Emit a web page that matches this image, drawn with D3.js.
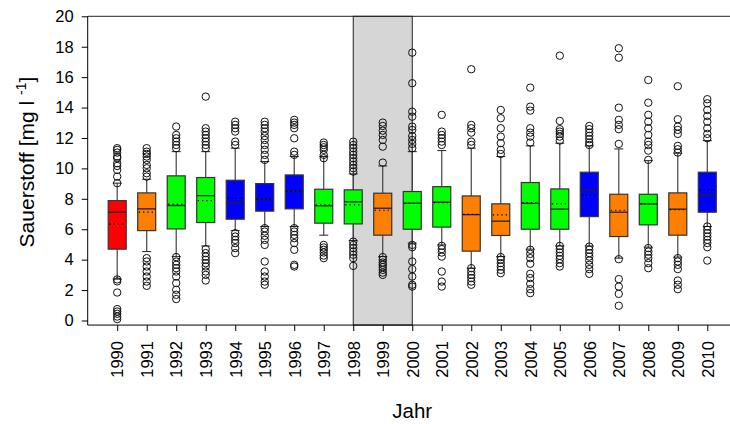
<!DOCTYPE html>
<html>
<head>
<meta charset="utf-8">
<script src="https://cdn.jsdelivr.net/npm/d3@7"></script>
<style>
  body { margin: 0; background: #fff; }
  svg { display: block; font-family: Arial, "Liberation Sans", sans-serif; }
</style>
</head>
<body>
<svg id="chart" width="730" height="424"></svg>
<script>
// Sauerstoff box plots per year
const years = d3.range(1990, 2011);
const groups = ["r", "o", "g", "g", "b", "b", "b", "g", "g", "o", "g", "g", "o", "o", "g", "g", "b", "o", "g", "o", "b"];
const q1 = [4.69, 5.91, 6.02, 6.44, 6.66, 7.19, 7.34, 6.4, 6.35, 5.61, 6.0, 6.14, 4.56, 5.59, 6.0, 6.0, 6.83, 5.52, 6.29, 5.61, 7.12];
const q3 = [7.88, 8.39, 9.51, 9.4, 9.22, 9.0, 9.57, 8.63, 8.59, 8.37, 8.48, 8.8, 8.19, 7.67, 9.07, 8.65, 9.75, 8.3, 8.3, 8.39, 9.75];
const medians = [7.12, 7.34, 7.56, 8.21, 7.71, 8.0, 8.48, 7.54, 7.8, 7.38, 7.71, 7.78, 6.96, 6.53, 7.7, 7.32, 8.57, 7.12, 7.67, 7.32, 8.26];
const means = [6.33, 7.12, 7.65, 7.88, 8.04, 8.0, 8.5, 7.6, 7.6, 7.25, 7.71, 7.75, 6.98, 6.94, 7.75, 7.67, 8.24, 7.25, 7.67, 7.28, 8.59];
const whiskLo = [2.72, 4.53, 4.2, 4.9, 5.91, 6.18, 6.18, 5.61, 5.26, 4.2, 5.09, 4.97, 3.44, 4.2, 4.69, 4.9, 4.9, 4.1, 4.82, 4.17, 6.18];
const whiskHi = [9.03, 9.29, 11.1, 11.1, 11.33, 10.45, 10.78, 10.78, 9.64, 10.16, 11.1, 11.17, 11.33, 10.78, 11.48, 11.66, 11.48, 11.28, 10.51, 11.0, 11.83];
const outliers = [
  [11.33, 11.22, 11.04, 10.78, 10.67, 10.34, 10.16, 9.9, 9.46, 9.03, 2.7, 2.57, 1.84, 0.75, 0.59, 0.44, 0.26, 0.09],
  [11.33, 11.1, 10.95, 10.78, 10.56, 10.23, 10.01, 9.68, 9.46, 4.1, 3.88, 3.55, 3.22, 2.89, 2.56, 2.28],
  [12.75, 12.2, 11.98, 11.76, 11.54, 11.33, 4.17, 3.88, 3.66, 3.44, 3.22, 2.89, 2.46, 2.02, 1.69, 1.41],
  [14.72, 12.64, 12.42, 12.2, 11.98, 11.76, 11.54, 11.33, 4.69, 4.43, 4.2, 3.99, 3.77, 3.55, 3.22, 3.0, 2.63],
  [13.07, 12.86, 12.64, 12.42, 11.76, 11.54, 5.74, 5.52, 5.3, 5.09, 4.76, 4.43],
  [13.07, 12.86, 12.64, 12.42, 12.13, 11.87, 11.54, 11.22, 10.89, 10.56, 6.07, 5.85, 5.57, 5.3, 4.97, 3.88, 3.22, 2.89, 2.56, 2.35],
  [13.19, 13.01, 12.86, 12.64, 11.98, 11.1, 10.89, 6.07, 5.85, 5.63, 5.41, 5.09, 4.65, 3.66, 3.55],
  [11.7, 11.54, 11.39, 11.22, 10.89, 10.67, 4.97, 4.8, 4.65, 4.47, 4.27, 4.1],
  [11.76, 11.54, 11.33, 11.1, 10.89, 10.67, 10.45, 10.23, 10.01, 9.79, 5.19, 4.97, 4.76, 4.53, 4.32, 4.1, 3.59],
  [13.01, 12.79, 12.48, 12.2, 11.87, 11.43, 10.38, 4.17, 3.99, 3.81, 3.66, 3.51, 3.33, 3.15, 3.0],
  [17.61, 15.6, 13.73, 13.4, 12.75, 12.53, 12.13, 11.87, 11.61, 11.33, 4.97, 4.82, 3.88, 3.38, 2.89, 2.35, 2.23],
  [13.52, 12.42, 12.2, 11.98, 11.76, 11.54, 4.91, 4.69, 4.47, 4.2, 3.22, 2.56, 2.23],
  [16.52, 12.86, 12.64, 12.35, 11.76, 11.54, 3.44, 3.22, 3.0, 2.79, 2.56, 2.35],
  [13.84, 13.3, 12.64, 12.09, 11.66, 11.22, 10.95, 4.17, 4.0, 3.77, 3.55, 3.33, 3.11],
  [15.31, 14.06, 13.8, 12.64, 12.35, 12.09, 11.7, 4.65, 4.38, 4.1, 3.73, 3.07, 2.79, 2.41, 2.06, 1.8],
  [17.41, 13.12, 12.58, 12.42, 12.27, 12.09, 11.83, 4.9, 4.69, 4.47, 4.25, 4.03, 3.77, 3.55],
  [12.79, 12.58, 12.35, 12.14, 11.92, 11.7, 11.54, 4.86, 4.65, 4.43, 4.2, 3.94, 3.66, 3.38, 3.07],
  [17.9, 17.28, 13.99, 13.19, 12.86, 12.58, 11.61, 4.03, 2.72, 2.23, 1.75, 0.97],
  [15.81, 14.32, 13.52, 13.07, 12.64, 12.2, 11.76, 11.54, 11.17, 10.56, 4.76, 4.53, 4.32, 4.1, 3.77, 3.44],
  [15.4, 13.23, 12.75, 12.53, 12.27, 11.48, 11.26, 11.04, 4.1, 3.88, 3.66, 3.38, 2.63, 2.35, 2.06],
  [14.55, 14.28, 13.84, 13.45, 13.07, 12.64, 12.27, 11.98, 6.18, 5.96, 5.74, 5.52, 5.3, 5.09, 4.82, 3.94]
];
const shadedYears = [1998, 2000];
const yTicks = d3.range(0, 21, 2);

const colorMap = { r: "#ff0000", o: "#ff8000", g: "#00ff00", b: "#0000ff" };

const svg = d3.select("#chart");
const x = d3.scaleLinear().domain([1989, 2011]).range([87.7, 736.8]);
const y = d3.scaleLinear().domain([0, 20]).range([320.5, 16.3]);
const yBottom = y(-0.3);
const boxW = 18, capW = 9;

// shaded period
svg.append("rect")
  .attr("x", x(shadedYears[0])).attr("y", y(20))
  .attr("width", x(shadedYears[1]) - x(shadedYears[0]))
  .attr("height", yBottom - y(20))
  .attr("fill", "#d6d6d6").attr("stroke", "#222").attr("stroke-width", 1);

// frame top
svg.append("line").attr("x1", x(1989)).attr("x2", 730).attr("y1", y(20)).attr("y2", y(20))
  .attr("stroke", "#222").attr("stroke-width", 1);

const g = svg.append("g");
const items = years.map((yr, i) => ({ yr, i }));

const box = g.selectAll("g.box").data(items).enter().append("g").attr("class", "box");

// whiskers
box.append("line").attr("x1", d => x(d.yr)).attr("x2", d => x(d.yr))
  .attr("y1", d => y(q3[d.i])).attr("y2", d => y(whiskHi[d.i]))
  .attr("stroke", "#444").attr("stroke-width", 1.2);
box.append("line").attr("x1", d => x(d.yr)).attr("x2", d => x(d.yr))
  .attr("y1", d => y(q1[d.i])).attr("y2", d => y(whiskLo[d.i]))
  .attr("stroke", "#444").attr("stroke-width", 1.2);
box.append("line").attr("x1", d => x(d.yr) - capW / 2).attr("x2", d => x(d.yr) + capW / 2)
  .attr("y1", d => y(whiskHi[d.i])).attr("y2", d => y(whiskHi[d.i]))
  .attr("stroke", "#222").attr("stroke-width", 1);
box.append("line").attr("x1", d => x(d.yr) - capW / 2).attr("x2", d => x(d.yr) + capW / 2)
  .attr("y1", d => y(whiskLo[d.i])).attr("y2", d => y(whiskLo[d.i]))
  .attr("stroke", "#222").attr("stroke-width", 1);

// box
box.append("rect")
  .attr("x", d => x(d.yr) - boxW / 2).attr("width", boxW)
  .attr("y", d => y(q3[d.i])).attr("height", d => y(q1[d.i]) - y(q3[d.i]))
  .attr("fill", d => colorMap[groups[d.i]])
  .attr("stroke", "#333").attr("stroke-width", 1.2);

// median + mean
box.append("line").attr("x1", d => x(d.yr) - boxW / 2).attr("x2", d => x(d.yr) + boxW / 2)
  .attr("y1", d => y(medians[d.i])).attr("y2", d => y(medians[d.i]))
  .attr("stroke", "#222").attr("stroke-width", 1.3);
box.append("line").attr("x1", d => x(d.yr) - boxW / 2 + 1).attr("x2", d => x(d.yr) + boxW / 2 - 1)
  .attr("y1", d => y(means[d.i])).attr("y2", d => y(means[d.i]))
  .attr("stroke", "#000").attr("stroke-width", 1.2).attr("stroke-dasharray", "1.3,3");

// outliers
box.selectAll("circle").data(d => outliers[d.i].map(v => ({ yr: d.yr, v }))).enter().append("circle")
  .attr("cx", d => x(d.yr)).attr("cy", d => y(d.v)).attr("r", 3.7)
  .attr("fill", "none").attr("stroke", "#111").attr("stroke-width", 1);

// axes
const yAxis = d3.axisLeft(y).tickValues(yTicks).tickSize(6).tickPadding(8);
svg.append("g").attr("transform", `translate(${x(1989)},0)`).call(yAxis)
  .call(a => a.select(".domain").attr("d", `M0,${y(20)}V${yBottom}`))
  .call(a => a.selectAll("text").attr("font-size", 16.5).attr("font-family", "Arial, 'Liberation Sans', sans-serif").attr("fill", "#000"));

const xAxis = d3.axisBottom(x).tickValues(years).tickSize(6).tickFormat(d3.format("d"));
svg.append("g").attr("transform", `translate(0,${yBottom})`).call(xAxis)
  .call(a => a.select(".domain").attr("d", `M${x(1989)},0H730`))
  .call(a => a.selectAll("text")
    .attr("font-size", 16.5).attr("font-family", "Arial, 'Liberation Sans', sans-serif").attr("fill", "#000")
    .attr("text-anchor", "end").attr("transform", "rotate(-90)")
    .attr("x", -16).attr("y", 0).attr("dy", "0.35em"));

// axis titles
svg.append("text").attr("x", (x(1989) + x(2011)) / 2).attr("y", 418)
  .attr("text-anchor", "middle").attr("font-size", 20.5).text("Jahr");

const yl = svg.append("text").attr("transform", "translate(34,162) rotate(-90)")
  .attr("text-anchor", "middle").attr("font-size", 21);
yl.append("tspan").text("Sauerstoff [mg l ");
yl.append("tspan").attr("font-size", 14).attr("dy", -8).text("-1");
yl.append("tspan").attr("dy", 8).text("]");
</script>
</body>
</html>
